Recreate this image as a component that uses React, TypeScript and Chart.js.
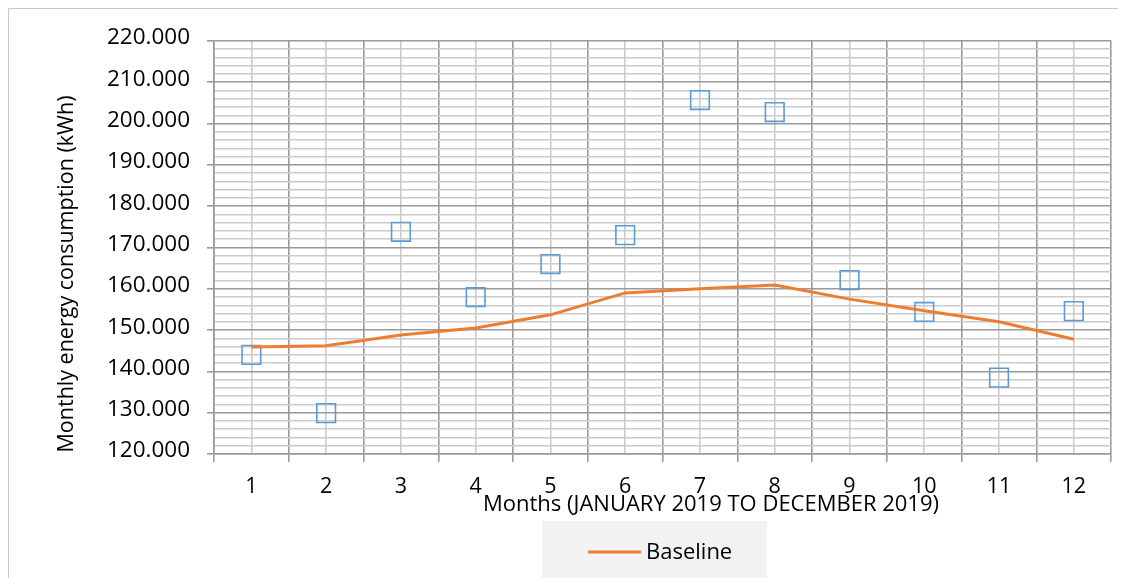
import React, { useEffect, useRef } from 'react';
import { Chart, registerables } from 'chart.js';

Chart.register(...registerables);

const months = [1, 2, 3, 4, 5, 6, 7, 8, 9, 10, 11, 12];
const baselineValues = [145900, 146200, 148800, 150500, 153700, 159000, 160000, 160900, 157500, 154700, 152000, 147800];
const measuredValues = [144000, 129900, 173800, 158000, 166000, 173000, 205700, 202800, 162100, 154400, 138500, 154600];
const yMin = 120000;
const yMax = 220000;
const yMajorStep = 10000;
const yMinorStep = 2000;
const seriesName = 'Baseline';
const xTitle = 'Months (JANUARY 2019 TO DECEMBER 2019)';
const yTitle = 'Monthly energy consumption (kWh)';

const FONT = "'Open Sans', 'Noto Sans', sans-serif";
const MAJOR = '#9a9a9a';
const MINOR = '#cbcbcb';
const W = 1118;
const H = 570;

const fmt = (v: number) => Math.round(v).toString().replace(/\B(?=(\d{3})+(?!\d))/g, '.');

const decor = {
  id: 'decor',
  beforeDraw(chart: any) {
    const ctx = chart.ctx;
    ctx.save();
    ctx.strokeStyle = '#c8c8c8';
    ctx.lineWidth = 1;
    ctx.beginPath();
    ctx.moveTo(0.5, chart.height);
    ctx.lineTo(0.5, 0.5);
    ctx.lineTo(chart.width, 0.5);
    ctx.stroke();
    ctx.restore();
  },
  afterDraw(chart: any) {
    const ctx = chart.ctx;
    ctx.save();
    ctx.fillStyle = '#000';
    ctx.font = `22px ${FONT}`;
    ctx.textAlign = 'center';
    ctx.textBaseline = 'middle';
    ctx.fillText(xTitle, 703, 497);
    ctx.save();
    ctx.translate(59, 266);
    ctx.rotate(-Math.PI / 2);
    ctx.font = `21.5px ${FONT}`;
    ctx.fillText(yTitle, 0, 0);
    ctx.restore();
    // legend
    const ds = chart.data.datasets[0];
    ctx.fillStyle = '#f2f2f2';
    ctx.fillRect(534, 513, 225, chart.height - 513);
    ctx.strokeStyle = ds.borderColor;
    ctx.lineWidth = ds.borderWidth;
    ctx.beginPath();
    ctx.moveTo(580, 544);
    ctx.lineTo(633, 544);
    ctx.stroke();
    ctx.fillStyle = '#000';
    ctx.textAlign = 'left';
    ctx.fillText(ds.label, 638, 545);
    ctx.restore();
  },
};

export default function App() {
  const ref = useRef<HTMLCanvasElement | null>(null);
  useEffect(() => {
    document.documentElement.style.overflow = 'hidden';
    const chart = new Chart(ref.current as HTMLCanvasElement, {
      type: 'line',
      data: {
        datasets: [
          {
            label: seriesName,
            data: months.map((m, i) => ({ x: m, y: baselineValues[i] })),
            borderColor: '#ed7d31',
            backgroundColor: '#ed7d31',
            borderWidth: 3,
            pointRadius: 0,
            tension: 0,
            order: 0,
          },
          {
            label: 'Measured',
            data: months.map((m, i) => ({ x: m, y: measuredValues[i] })),
            showLine: false,
            pointStyle: 'rect',
            pointRadius: 13.2,
            pointBorderWidth: 1.6,
            pointBorderColor: '#5b9bd5',
            pointBackgroundColor: 'rgba(0,0,0,0)',
            borderColor: '#5b9bd5',
            order: 1,
          },
        ],
      },
      options: {
        animation: false,
        responsive: false,
        maintainAspectRatio: false,
        devicePixelRatio: 1,
        layout: { padding: { top: 33, right: 12, left: 0, bottom: 0 } },
        plugins: { legend: { display: false }, tooltip: { enabled: false } },
        scales: {
          x: {
            type: 'linear',
            min: 0.5,
            max: 12.5,
            afterFit: (s: any) => { s.height = 124; },
            ticks: {
              stepSize: 0.5,
              autoSkip: false,
              maxRotation: 0,
              padding: 12,
              color: '#000',
              font: { family: FONT, size: 21.5 },
              callback: (v: any) => (Number.isInteger(v) ? String(v) : ''),
            },
            grid: {
              color: (c: any) => (Number.isInteger(c.tick?.value) ? MINOR : MAJOR),
              tickColor: (c: any) => (Number.isInteger(c.tick?.value) ? 'rgba(0,0,0,0)' : MAJOR),
              lineWidth: 1.6,
              tickLength: 8,
            },
            border: { color: MAJOR, width: 1.6 },
          },
          y: {
            min: yMin,
            max: yMax,
            afterFit: (s: any) => { s.width = 206; },
            ticks: {
              stepSize: yMinorStep,
              autoSkip: false,
              padding: 17,
              labelOffset: -3,
              color: '#000',
              font: { family: FONT, size: 22.5 },
              callback: (v: any) => (v % yMajorStep === 0 ? fmt(v) : ''),
            },
            grid: {
              color: (c: any) => (c.tick && c.tick.value % yMajorStep === 0 ? MAJOR : MINOR),
              tickColor: (c: any) => (c.tick && c.tick.value % yMajorStep === 0 ? MAJOR : 'rgba(0,0,0,0)'),
              lineWidth: 1.6,
              tickLength: 7,
            },
            border: { color: MAJOR, width: 1.6 },
          },
        },
      },
      plugins: [decor],
    } as any);
    return () => chart.destroy();
  }, []);
  return (
    <div style={{ width: W, height: H }}>
      <canvas ref={ref} width={W} height={H} style={{ display: 'block', width: W, height: H }} />
    </div>
  );
}
